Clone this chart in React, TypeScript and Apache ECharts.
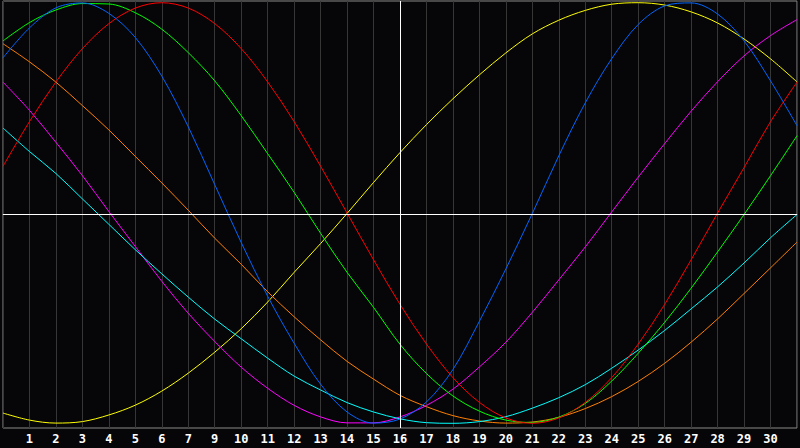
import { useEffect, useRef } from 'react'
import * as echarts from 'echarts'

// day labels along the bottom (8 is skipped in the source), blank at both edges
const dayLabels = [
  '', '1', '2', '3', '4', '5', '6', '7', '9', '10', '11', '12', '13', '14', '15', '16',
  '17', '18', '19', '20', '21', '22', '23', '24', '25', '26', '27', '28', '29', '30', ''
]

// values, -100..100, one per grid line
const yellowValues = [
  -93.0, -96.3, -97.7, -97.0, -93.9, -89.3, -82.7, -74.3, -64.5, -53.5, -41.0,
  -27.1, -13.6, 0.5, 15.0, 29.0, 42.1, 54.2, 65.4, 75.7, 84.6,
  91.0, 95.6, 98.5, 99.2, 98.1, 94.9, 89.7, 82.2, 72.9, 62.1
]
const blueValues = [
  73.4, 87.4, 96.8, 99.1, 94.2, 82.9, 64.8, 41.1, 14.0, -13.1, -38.3,
  -60.3, -79.5, -92.5, -97.7, -95.8, -87.8, -72.6, -50.0, -25.5, 0.5,
  27.5, 52.3, 73.0, 89.0, 97.7, 99.1, 93.9, 81.3, 62.6, 41.6
]
const greenValues = [
  81.3, 89.9, 95.8, 98.8, 98.6, 94.5, 86.8, 75.8, 62.6, 46.3, 28.5,
  10.4, -8.8, -27.1, -43.5, -60.8, -74.5, -85.0, -92.1, -96.3, -97.4,
  -94.9, -88.5, -78.0, -65.0, -50.5, -34.5, -17.5, 0, 18.2, 36.9
]
const redValues = [
  22.6, 43.5, 62.1, 77.7, 89.4, 96.7, 99.2, 96.7, 89.4, 77.7, 62.1,
  43.5, 22.6, 0.7, -21.2, -42.1, -60.7, -76.4, -88.0, -95.3, -97.8,
  -95.3, -88.0, -76.4, -60.7, -42.1, -21.2, 0.7, 22.0, 43.5, 62.0
]
const orangeValues = [
  80.0, 71.5, 62.0, 51.0, 39.6, 27.2, 14.8, 2.0, -11.1, -23.3, -36.2,
  -47.9, -58.7, -68.8, -77.1, -84.7, -90.0, -94.2, -96.7, -97.7, -97.2,
  -95.0, -90.9, -85.3, -78.2, -69.7, -59.8, -48.9, -37.0, -25.0, -12.9
]
const magentaValues = [
  62.0, 48.8, 33.8, 18.2, 1.4, -15.0, -31.3, -46.3, -59.5, -71.5, -81.4,
  -89.4, -94.8, -97.6, -97.6, -94.8, -89.4, -81.8, -71.4, -59.8, -45.8,
  -30.6, -15.2, 1.2, 17.5, 33.2, 48.4, 62.2, 74.3, 83.8, 91.3
]
const cyanValues = [
  40.5, 29.5, 19.2, 7.3, -4.6, -16.5, -27.8, -38.7, -49.0, -58.2, -67.3,
  -75.7, -82.2, -88.1, -92.5, -95.7, -97.5, -97.8, -97.0, -94.7, -90.7,
  -85.8, -79.7, -72.0, -63.5, -54.3, -44.2, -33.9, -22.7, -10.9, 0
]

const curves = [
  { name: 'yellow', color: '#ffff00', data: yellowValues },
  { name: 'orange', color: '#ff8000', data: orangeValues },
  { name: 'magenta', color: '#ff00ff', data: magentaValues },
  { name: 'cyan', color: '#00ffff', data: cyanValues },
  { name: 'green', color: '#00ff00', data: greenValues },
  { name: 'red', color: '#ff0000', data: redValues },
  { name: 'blue', color: '#0066ff', data: blueValues }
]

export default function App() {
  const chartRef = useRef<HTMLDivElement>(null)

  useEffect(() => {
    document.body.style.margin = '0'
    document.body.style.background = '#060609'
    const host = chartRef.current
    if (!host) return

    const chart = echarts.init(host, null, { renderer: 'svg' })

    const option: echarts.EChartsOption = {
      animation: false,
      backgroundColor: '#060609',
      grid: {
        left: 1,
        right: 1,
        top: 1,
        bottom: 20,
        show: true,
        borderColor: '#8a8a8a',
        borderWidth: 1,
        backgroundColor: 'transparent'
      },
      xAxis: {
        type: 'category',
        data: dayLabels,
        boundaryGap: false,
        axisLine: { show: true, lineStyle: { color: '#8a8a8a', width: 1 } },
        axisTick: { show: false },
        axisLabel: {
          interval: 0,
          color: '#ffffff',
          fontSize: 12,
          fontWeight: 'bold',
          fontFamily: 'DejaVu Sans Mono',
          margin: 5
        },
        splitLine: { show: true, interval: 0, lineStyle: { color: '#363636', width: 1 } }
      },
      yAxis: {
        type: 'value',
        min: -100,
        max: 100,
        axisLine: { show: false },
        axisTick: { show: false },
        axisLabel: { show: false },
        splitLine: { show: false }
      },
      series: [
        {
          type: 'line',
          data: [],
          z: 1,
          markLine: {
            silent: true,
            symbol: 'none',
            label: { show: false },
            lineStyle: { color: '#ffffff', width: 1, type: 'solid' },
            data: [{ yAxis: 0 }, { xAxis: '16' }]
          }
        },
        ...curves.map((c) => ({
          name: c.name,
          type: 'line' as const,
          data: c.data,
          z: 2,
          smooth: 0.33,
          showSymbol: false,
          symbol: 'none',
          lineStyle: { color: c.color, width: 1 },
          itemStyle: { color: c.color }
        }))
      ]
    }

    chart.setOption(option)

    return () => {
      chart.dispose()
    }
  }, [])

  return <div ref={chartRef} style={{ width: 800, height: 448 }} />
}
